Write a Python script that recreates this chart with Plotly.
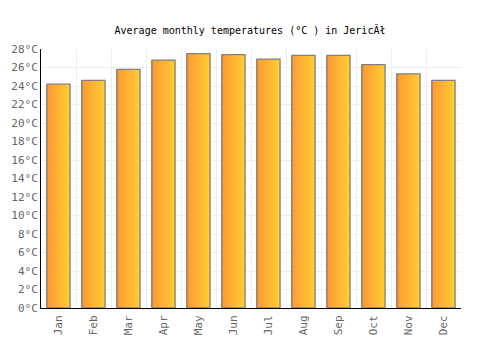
import plotly.graph_objects as go

months = ["Jan", "Feb", "Mar", "Apr", "May", "Jun", "Jul", "Aug", "Sep", "Oct", "Nov", "Dec"]
temps = [24.2, 24.6, 25.8, 26.8, 27.5, 27.4, 26.9, 27.3, 27.3, 26.3, 25.3, 24.6]
y_ticks = list(range(0, 29, 2))
y_labels = [f"{v}°C" for v in y_ticks]

title = "Average monthly temperatures (°C ) in JericĂł"

bar_w = 0.66
n_strips = 14
c0 = (255, 153, 51)
c1 = (255, 204, 51)

fig = go.Figure()
sw = bar_w / n_strips
for i in range(n_strips):
    t = i / (n_strips - 1)
    col = tuple(round(a + (b - a) * t) for a, b in zip(c0, c1))
    fig.add_trace(go.Bar(
        x=months, y=temps,
        width=sw * 1.15,
        offset=-bar_w / 2 + i * sw,
        marker=dict(color=f"rgb{col}", line=dict(width=0)),
        hoverinfo="skip", showlegend=False,
    ))
fig.add_trace(go.Bar(
    x=months, y=temps, width=bar_w, offset=-bar_w / 2,
    marker=dict(color="rgba(0,0,0,0)", line=dict(color="#808080", width=1.3)),
    showlegend=False,
))

font = "DejaVu Sans Mono, monospace"
fig.update_layout(
    width=500, height=350,
    margin=dict(l=41, r=39, t=49, b=42, autoexpand=False),
    paper_bgcolor="white", plot_bgcolor="white",
    barmode="overlay",
    title=dict(text=title, x=0.5, xanchor="center", y=0.912, yanchor="middle",
               font=dict(family=font, size=10, color="black")),
    font=dict(family=font, size=11, color="#666"),
)
fig.update_xaxes(
    type="category", tickson="boundaries", showgrid=True, gridcolor="#eeeeee",
    gridwidth=1, showline=True, linecolor="black", linewidth=1,
    ticks="", tickangle=-90, tickfont=dict(family=font, size=11, color="#666"),
    range=[-0.5, 11.5], ticklabelstandoff=2, automargin=False,
)
fig.update_yaxes(
    range=[0, 28], tickvals=y_ticks, ticktext=y_labels, showgrid=True,
    gridcolor="#eeeeee", gridwidth=1, showline=True, linecolor="black",
    linewidth=1, ticks="", zeroline=False, automargin=False,
    tickfont=dict(family=font, size=11, color="#666"),
)

fig.write_html("out.html")
